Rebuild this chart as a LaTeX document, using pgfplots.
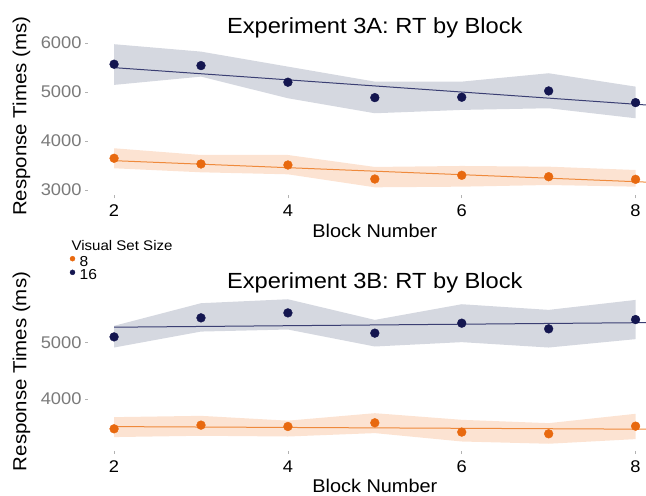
\documentclass[border=0pt]{standalone}
\usepackage{fontspec}
\setmainfont[FakeStretch=1.08]{Liberation Sans}
\usepackage{pgfplots}
\pgfplotsset{compat=1.18}
\definecolor{navydot}{HTML}{141650}
\definecolor{navyline}{HTML}{3B3F73}
\definecolor{navyband}{HTML}{D5D8E0}
\definecolor{orangedot}{HTML}{E8690F}
\definecolor{orangeline}{HTML}{EF8A3C}
\definecolor{orangeband}{HTML}{FCE3D2}
\definecolor{ticktext}{HTML}{7A7A7A}
\pgfplotsset{
  rtstyle/.style={
    scale only axis, width=558bp, xmin=1.7, xmax=8.12, anchor=south west,
    axis line style={draw=none}, tick pos=left, tick align=outside,
    major tick length=3bp, tick style={black!30, line width=0.6bp},
    xtick={2,4,6,8}, scaled y ticks=false, clip mode=individual,
    /pgf/number format/assume math mode=true,
    /pgf/number format/.cd, fixed, set thousands separator={}, /pgfplots/.cd,
    xticklabel style={font=\fontsize{17}{17}\selectfont, text=black, anchor=base, yshift=-18.5bp},
    yticklabel style={font=\fontsize{17}{17}\selectfont, text=ticktext},
  },
  band/.style={fill=#1, draw=none, forget plot},
  fit/.style={color=#1, line width=1bp, no marks, forget plot},
  pts/.style={only marks, mark=*, mark size=4.4bp, color=#1, forget plot},
}
\begin{document}
\begin{tikzpicture}
\useasboundingbox (0bp,0bp) rectangle (646bp,496bp);
% ---------- top panel ----------
\begin{axis}[rtstyle, at={(88bp,300.5bp)}, height=158.5bp, ymin=2888, ymax=6120, ytick={3000,4000,5000,6000}]
\addplot[band=navyband] coordinates {(2,5973)(3,5822)(4,5516)(5,5210)(6,5210)(7,5381)(8,5108)(8,4463)(7,4667)(6,4633)(5,4565)(4,4871)(3,5312)(2,5143)} -- cycle;
\addplot[band=orangeband] coordinates {(2,3851)(3,3714)(4,3714)(5,3470)(6,3490)(7,3476)(8,3408)(8,3068)(7,3102)(6,3068)(5,3055)(4,3320)(3,3361)(2,3443)} -- cycle;
\addplot[fit=navyline] coordinates {(2,5495)(8.12,4734)};
\addplot[fit=orangeline] coordinates {(2,3598)(8.12,3161)};
\addplot[pts=navydot] coordinates {(2,5565)(3,5537)(4,5198)(5,4884)(6,4892)(7,5020)(8,4782)};
\addplot[pts=orangedot] coordinates {(2,3647)(3,3531)(4,3510)(5,3224)(6,3300)(7,3271)(8,3218)};
\node[anchor=base, yshift=3.7bp, font=\fontsize{22}{22}\selectfont] at (rel axis cs:0.514,1) {Experiment 3A: RT by Block};
\node[anchor=base, yshift=-42bp, font=\fontsize{18.5}{18.5}\selectfont] at (rel axis cs:0.514,0) {Block Number};
\node[xshift=-61.7bp, rotate=90, anchor=base, font=\fontsize{19}{19}\selectfont] at (rel axis cs:0,0.5) {Response Times (ms)};
\end{axis}
% ---------- bottom panel ----------
\begin{axis}[rtstyle, at={(88bp,45bp)}, height=159bp, ymin=3084, ymax=5893, ytick={4000,5000},
  legend style={at={(axis description cs:-0.0326,1.2264)}, anchor=north west, draw=none, fill=none,
    inner sep=0pt, outer sep=0pt, font=\fontsize{14.5}{14.5}\selectfont, legend cell align=left,
    nodes={inner sep=0pt, text height=10bp, text depth=3.3bp},
    /tikz/every odd column/.append style={column sep=4.5bp}},
  legend image code/.code={\fill[#1] (2.5bp,4.3bp) circle (2.5bp);}]
\addplot[band=navyband] coordinates {(2,5295)(3,5695)(4,5765)(5,5400)(6,5677)(7,5577)(8,5753)(8,5060)(7,4912)(6,5007)(5,4930)(4,5230)(3,5194)(2,4912)} -- cycle;
\addplot[band=orangeband] coordinates {(2,3682)(3,3705)(4,3620)(5,3752)(6,3635)(7,3576)(8,3741)(8,3294)(7,3212)(6,3252)(5,3400)(4,3340)(3,3353)(2,3330)} -- cycle;
\addplot[fit=navyline] coordinates {(2,5271)(8.12,5352)};
\addplot[fit=orangeline] coordinates {(2,3515)(8.12,3469)};
\addplot[pts=navydot] coordinates {(2,5100)(3,5436)(4,5524)(5,5166)(6,5342)(7,5242)(8,5406)};
\addplot[pts=orangedot] coordinates {(2,3476)(3,3541)(4,3517)(5,3582)(6,3418)(7,3388)(8,3523)};
\addlegendimage{color=orangedot}\addlegendentry{8}
\addlegendimage{color=navydot}\addlegendentry{16}
\node[anchor=base, yshift=3.7bp, font=\fontsize{22}{22}\selectfont] at (rel axis cs:0.514,1) {Experiment 3B: RT by Block};
\node[anchor=base, yshift=-41bp, font=\fontsize{18.5}{18.5}\selectfont] at (rel axis cs:0.514,0) {Block Number};
\node[xshift=-61.7bp, rotate=90, anchor=base, font=\fontsize{19}{19}\selectfont] at (rel axis cs:0,0.5) {Response Times (ms)};
\end{axis}
\node[anchor=base west, font=\fontsize{14}{14}\selectfont] at (68bp,245bp) {Visual Set Size};
\end{tikzpicture}
\end{document}
